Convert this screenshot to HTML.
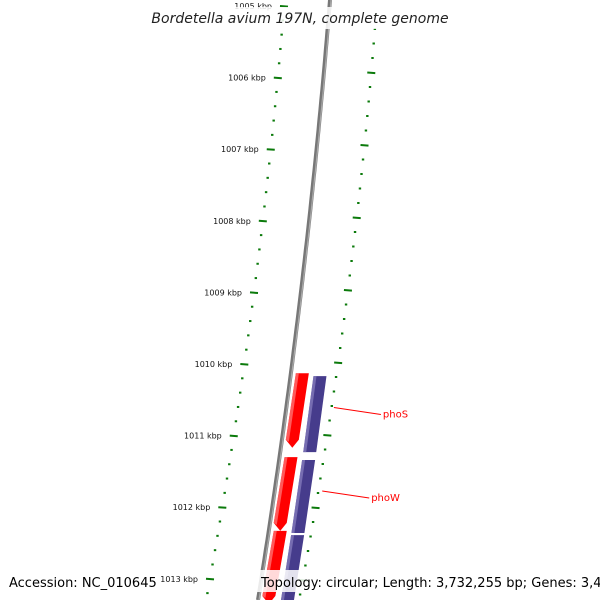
<!DOCTYPE html>
<html><head><meta charset="utf-8"><style>
body{margin:0;background:#fff;}
svg{display:block;font-family:"DejaVu Sans","Liberation Sans",sans-serif;}
</style></head><body>
<svg id="c" width="600" height="600" viewBox="0 0 600 600">
<g id="ticks"></g>
<g id="bb"></g>
<g id="genes"></g>
<g id="labels"></g>
<rect x="150" y="7" width="300" height="22" fill="#fff" opacity="0.85"/>
<text x="300" y="23" text-anchor="middle" font-size="14" font-style="italic" fill="#222">Bordetella avium 197N, complete genome</text>
<rect x="4" y="570" width="150" height="22" fill="#fff" opacity="0.85"/>
<text x="9" y="587" font-size="13" fill="#000">Accession: NC_010645</text>
<rect x="256" y="570" width="340" height="22" fill="#fff" opacity="0.85"/>
<text x="261" y="587" font-size="13" fill="#000">Topology: circular; Length: 3,732,255 bp; Genes: 3,455</text>
</svg>
<script>
const majorKbp=[1005,1006,1007,1008,1009,1010,1011,1012,1013];
const geneStart=[1010.13,1010.17,1011.30,1011.34,1012.33,1012.39];
const geneEnd=[1011.17,1011.23,1012.33,1012.36,1013.40,1013.40];
const geneStrand=[-1,1,-1,1,-1,1];
const geneNames=["phoS","","phoW","","",""];
const NS="http://www.w3.org/2000/svg";
function yOf(k){return 6+(k-1005)*71.6;}
function xLeft(k){const t=k-1005;return 284-5.75*t-0.4375*t*t;}
function xRight(y){const s=(y-87)/508;return 370-45.4*s-24.6*s*s;}
function xBB(y){const s=y/600;return 330-48*s-24*s*s;}
function mk(tag,attrs,parent){const e=document.createElementNS(NS,tag);for(const a in attrs)e.setAttribute(a,attrs[a]);parent.appendChild(e);return e;}
const T=document.getElementById('ticks');
// left ring
for(let i=0;i<majorKbp.length;i++){
  for(let j=0;j<5;j++){
    const k=majorKbp[i]+j*0.2; if(k>1013.3)break;
    const y=yOf(k),x=xLeft(k);
    if(j===0){
      const l=mk('line',{x1:x-4,y1:y,x2:x+4,y2:y+0.6,stroke:'#0b7a0b','stroke-width':2},T);
      
      
      const t=mk('text',{x:x-12,y:y+3,'font-size':8,'text-anchor':'end',fill:'#111'},T);
      t.textContent=majorKbp[i]+' kbp';
      
      
    }else{
      const l=mk('line',{x1:x-1.2,y1:y,x2:x+1.2,y2:y,stroke:'#0b7a0b','stroke-width':2},T);
      
      
    }
  }
}
// right ring
for(let n=1;n<42;n++){
  const y=n*14.5; const x=xRight(y); const maj=(n%5===0);
  const l=mk('line',{x1:x-(maj?4:1.2),y1:y,x2:x+(maj?4:1.2),y2:y+(maj?0.6:0),stroke:'#0b7a0b','stroke-width':2},T);
  
  
}
// backbone
const B=document.getElementById('bb');let d='';
for(let y=0;y<=600;y+=10){d+=(y?'L':'M')+xBB(y).toFixed(1)+' '+y;}
mk('path',{d:d,stroke:'#777',fill:'none','stroke-width':4},B);
mk('path',{d:d,stroke:'#aaa',fill:'none','stroke-width':1.2,transform:'translate(1,0)'},B);
// genes
const G=document.getElementById('genes'),L=document.getElementById('labels');
for(let i=0;i<geneStart.length;i++){
  const y1=yOf(geneStart[i]),y2=Math.min(yOf(geneEnd[i]),604);
  const o1=geneStrand[i]<0?5:23,o2=o1+13;
  const a=xBB(y1),b=xBB(y2);
  let pts;
  if(geneStrand[i]<0){
    pts=[[a+o1,y1],[a+o2,y1],[b+o2,y2-8],[b+(o1+o2)/2,y2],[b+o1,y2-8]];
  }else{
    pts=[[a+o1,y1],[a+o2,y1],[b+o2,y2],[b+o1,y2]];
  }
  const col=geneStrand[i]<0?'#ff0000':'#463c8c';
  const p=mk('polygon',{points:pts.map(q=>q.join(',')).join(' '),fill:col},G);
  
  
  mk('polygon',{points:[[a+o1,y1],[a+o1+3,y1],[b+o1+3,y2-(geneStrand[i]<0?6:0)],[b+o1,y2-(geneStrand[i]<0?8:0)]].map(q=>q.join(',')).join(' '),fill:geneStrand[i]<0?'#ff8080':'#8a82c0',opacity:0.7},G);
  if(geneNames[i]){
    const ym=(y1+y2)/2, xg=xBB(ym)+38;
    const ln=mk('line',{x1:xg+10,y1:ym-3,x2:xg+57,y2:ym+4,stroke:'#ff0000','stroke-width':1},L);
    
    
    const t=mk('text',{x:xg+59,y:ym+7,'font-size':10,fill:'#ff0000'},L);
    t.textContent=geneNames[i];
    
    
  }
}
</script>
</body></html>
